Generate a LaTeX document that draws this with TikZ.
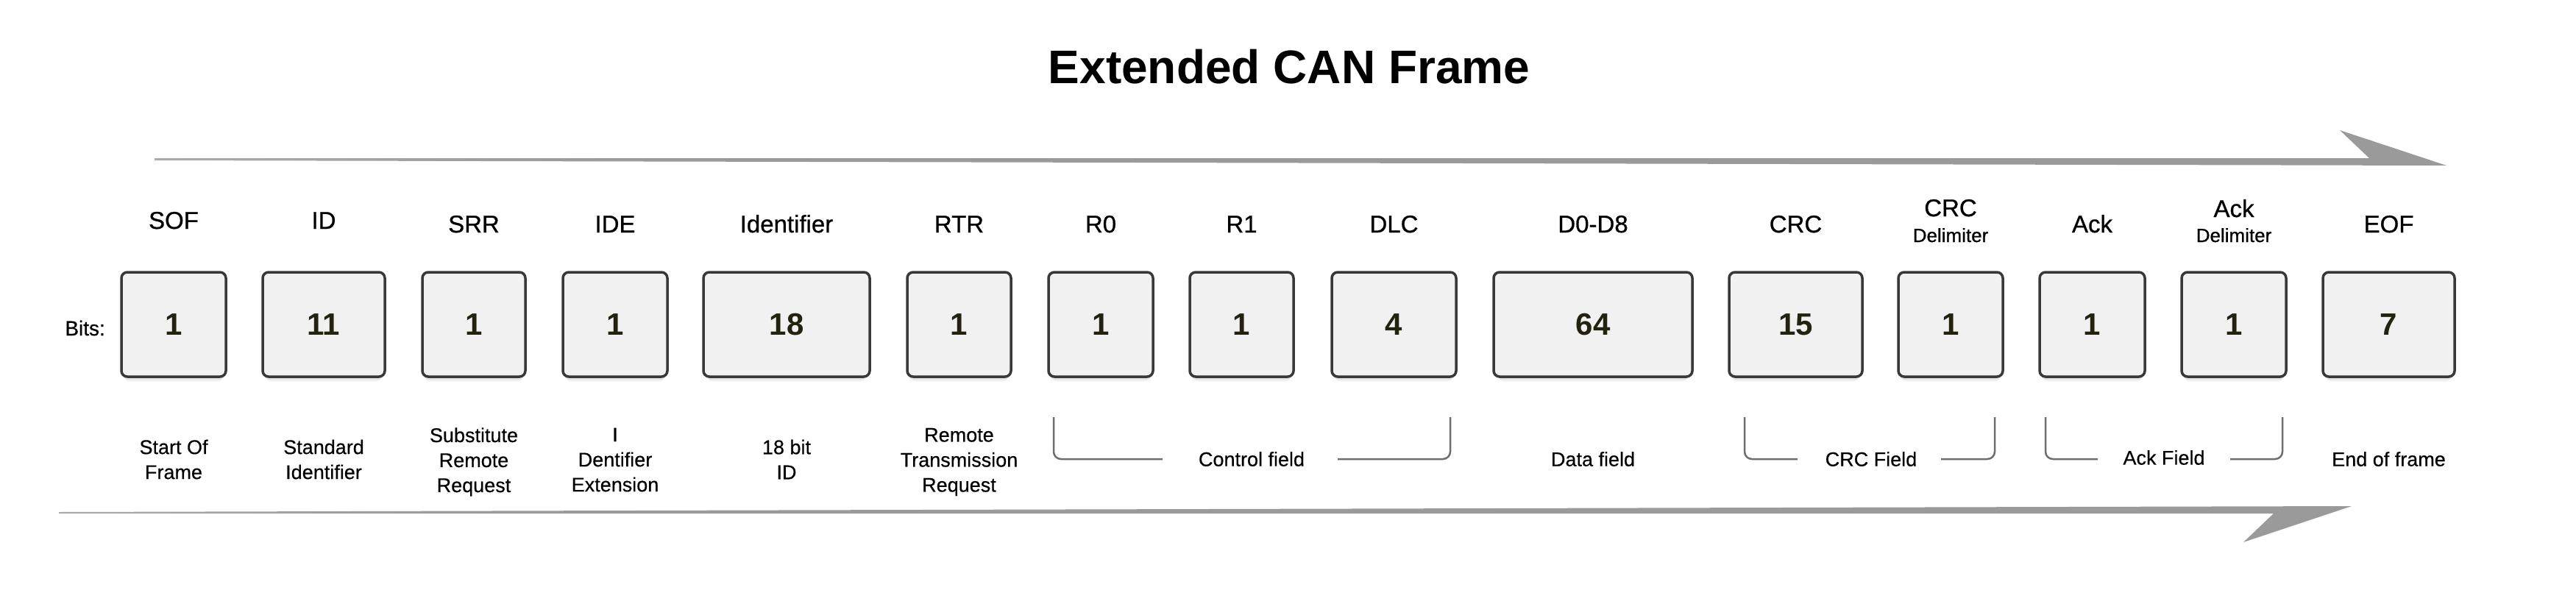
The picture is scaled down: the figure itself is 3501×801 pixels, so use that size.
\documentclass[tikz,border=0pt]{standalone}
\usepackage{fontspec}
\setmainfont{Liberation Sans}
\newfontfamily\medfont{Liberation Sans}[FakeBold=0.7]
\newfontfamily\semifont{Liberation Sans}[FakeBold=0.4]
\usetikzlibrary{shadows,calc}
\definecolor{boxfill}{HTML}{F1F1F1}
\definecolor{boxdraw}{HTML}{383838}
\definecolor{numcol}{HTML}{22220F}
\definecolor{brkcol}{HTML}{6E6E6E}
\definecolor{arr}{HTML}{9A9A9A}
\definecolor{arrl}{HTML}{D4D4D4}
\pgfdeclarehorizontalshading{arrowshade}{100bp}{color(0bp)=(arrl); color(35bp)=(arr); color(100bp)=(arr)}
\begin{document}
\begin{tikzpicture}[x=1pt,y=-1pt,
  box/.style={draw=boxdraw, line width=3.5pt, fill=boxfill, rounded corners=8pt,
    minimum height=142pt, inner sep=0pt, text=numcol,
    font=\bfseries\fontsize{42}{48}\selectfont,
    drop shadow={shadow xshift=0pt, shadow yshift=-3pt, shadow scale=0.99, opacity=0.10, fill=black},
    drop shadow={shadow xshift=0pt, shadow yshift=-7pt, shadow scale=0.97, opacity=0.06, fill=black},
    drop shadow={shadow xshift=0pt, shadow yshift=-11pt, shadow scale=0.95, opacity=0.04, fill=black}},
  lbl/.style={anchor=base, inner sep=0pt, font=\medfont\fontsize{33}{38}\selectfont},
  sublbl/.style={anchor=base, inner sep=0pt, font=\medfont\fontsize{26}{30}\selectfont},
  bot/.style={align=center, inner sep=0pt, font=\semifont\fontsize{27}{34}\selectfont},
  brk/.style={draw=brkcol, line width=2.5pt, rounded corners=10pt},
  bigarrow/.style={shading=arrowshade, draw=none},
  ttl/.style={anchor=base, inner sep=0pt, font=\bfseries\fontsize{64}{70}\selectfont}
]
\useasboundingbox (0,0) rectangle (3501,801);
\fill[white] (0,0) rectangle (3501,801);

% title
\node[ttl] (title) at (1752,113) {Extended CAN Frame};

% arrows
\shade[bigarrow] (210,215) -- (3220,215) -- (3180,177) -- (3325,225) -- (210,218) -- cycle;
\shade[bigarrow] (80,696) -- (3196,688) -- (3049,737) -- (3090,698) -- (80,698) -- cycle;

% boxes
\node[box, minimum width=142pt] (sof)   at (236,441)    {1};
\node[box, minimum width=166pt] (id)    at (440,441)    {11};
\node[box, minimum width=140pt] (srr)   at (644,441)    {1};
\node[box, minimum width=142pt] (ide)   at (836,441)    {1};
\node[box, minimum width=226pt] (ident) at (1069,441)   {18};
\node[box, minimum width=141pt] (rtr)   at (1303.5,441) {1};
\node[box, minimum width=142pt] (rzero) at (1496,441)   {1};
\node[box, minimum width=141pt] (rone)  at (1687.5,441) {1};
\node[box, minimum width=169pt] (dlc)   at (1894.5,441) {4};
\node[box, minimum width=270pt] (data)  at (2165,441)   {64};
\node[box, minimum width=181pt] (crc)   at (2440.5,441) {15};
\node[box, minimum width=142pt] (crcd)  at (2651,441)   {1};
\node[box, minimum width=143pt] (ack)   at (2843.5,441) {1};
\node[box, minimum width=142pt] (ackd)  at (3036,441)   {1};
\node[box, minimum width=179pt] (eof)   at (3246.5,441) {7};

% Bits label
\node[anchor=base east, inner sep=0pt, font=\medfont\fontsize{28}{32}\selectfont] (bits) at (143,456) {Bits:};

% top labels
\node[lbl] (tsof)   at (236,311)    {SOF};
\node[lbl] (tid)    at (440,311)    {ID};
\node[lbl] (tsrr)   at (644,316)    {SRR};
\node[lbl] (tide)   at (836,316)    {IDE};
\node[lbl] (tident) at (1069,316)   {Identifier};
\node[lbl] (trtr)   at (1303.5,316) {RTR};
\node[lbl] (trzero) at (1496,316)   {R0};
\node[lbl] (trone)  at (1687.5,316) {R1};
\node[lbl] (tdlc)   at (1894.5,316) {DLC};
\node[lbl] (tdata)  at (2165,316)   {D0-D8};
\node[lbl] (tcrc)   at (2440.5,316) {CRC};
\node[lbl] (tcrcd)  at (2651,294)   {CRC};
\node[sublbl] (tcrcdb) at (2651,329) {Delimiter};
\node[lbl] (tack)   at (2843.5,316) {Ack};
\node[lbl] (tackd)  at (3036,295)   {Ack};
\node[sublbl] (tackdb) at (3036,329) {Delimiter};
\node[lbl] (teof)   at (3246.5,316) {EOF};

% bottom labels
\node[bot] (bsof)   at (236,624.5)   {Start Of\\Frame};
\node[bot] (bid)    at (440,624.5)   {Standard\\Identifier};
\node[bot] (bsrr)   at (644,628)     {Substitute\\Remote\\Request};
\node[bot] (bide)   at (836,625)     {I\\Dentifier\\Extension};
\node[bot] (bident) at (1069,624.5)  {18 bit\\ID};
\node[bot] (brtr)   at (1303.5,628)  {Remote\\Transmission\\Request};
\node[bot] (bctl)   at (1701,624)    {Control field};
\node[bot] (bdata)  at (2165,624)    {Data field};
\node[bot] (bcrc)   at (2543,624)    {CRC Field};
\node[bot] (back)   at (2941,622)    {Ack Field};
\node[bot] (beof)   at (3246.5,624)  {End of frame};

% bracket coordinates
\coordinate (ctlL) at (1432,567);  \coordinate (ctlA) at (1580,624);
\coordinate (ctlB) at (1818,624);  \coordinate (ctlR) at (1971,567);
\coordinate (crcL) at (2371,567);  \coordinate (crcA) at (2443,624);
\coordinate (crcB) at (2638,624);  \coordinate (crcR) at (2711,567);
\coordinate (ackL) at (2780,567);  \coordinate (ackA) at (2851,624);
\coordinate (ackB) at (3031,624);  \coordinate (ackR) at (3102,567);

\draw[brk] (ctlL) |- (ctlA);  \draw[brk] (ctlB) -| (ctlR);
\draw[brk] (crcL) |- (crcA);  \draw[brk] (crcB) -| (crcR);
\draw[brk] (ackL) |- (ackA);  \draw[brk] (ackB) -| (ackR);
\end{tikzpicture}
\end{document}
